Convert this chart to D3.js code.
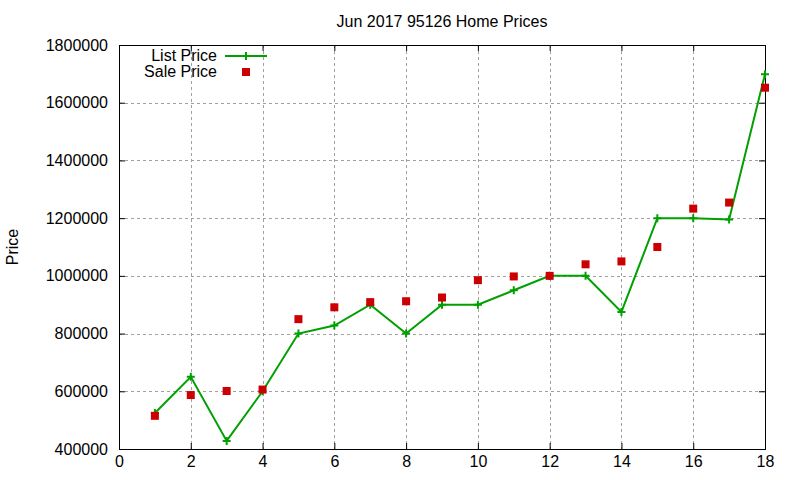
<!DOCTYPE html>
<html>
<head>
<meta charset="utf-8">
<script src="https://cdn.jsdelivr.net/npm/d3@7"></script>
<style>
  body { margin: 0; background: #fff; }
  text { font-family: "Liberation Sans", Arial, sans-serif; font-size: 16px; fill: #000; }
</style>
</head>
<body>
<div id="chart"></div>
<script>
const months = [1, 2, 3, 4, 5, 6, 7, 8, 9, 10, 11, 12, 13, 14, 15, 16, 17, 18];
const listPrice = [525000, 650000, 428000, 600000, 800000, 828000, 900000, 800000, 900000, 900000, 950000, 1000000, 1000000, 875000, 1200000, 1200000, 1195000, 1699000];
const salePrice = [515000, 587000, 601000, 606000, 850000, 891000, 909000, 912000, 925000, 985000, 998000, 1000000, 1040000, 1050000, 1100000, 1233000, 1254000, 1652000];
const xTicks = [0, 2, 4, 6, 8, 10, 12, 14, 16, 18];
const yTicks = [400000, 600000, 800000, 1000000, 1200000, 1400000, 1600000, 1800000];

let dimensions = {
  width: 800,
  height: 480,
  margin: { top: 45, right: 35, bottom: 31, left: 119 },
}
dimensions.boundedWidth = dimensions.width - dimensions.margin.left - dimensions.margin.right
dimensions.boundedHeight = dimensions.height - dimensions.margin.top - dimensions.margin.bottom

const wrapper = d3.select('#chart')
  .append('svg')
  .attr('width', dimensions.width)
  .attr('height', dimensions.height)

const chart = wrapper.append('g')
  .attr('transform', `translate(${dimensions.margin.left},${dimensions.margin.top})`)

//// Scales
const xScale = d3.scaleLinear().domain([0, 18]).range([0, dimensions.boundedWidth])
const yScale = d3.scaleLinear().domain([400000, 1800000]).range([dimensions.boundedHeight, 0])

//// Grid
chart.append('g').selectAll('line')
  .data(xTicks.slice(1, -1))
  .join('line')
  .attr('x1', d => Math.round(xScale(d)) + 0.5)
  .attr('x2', d => Math.round(xScale(d)) + 0.5)
  .attr('y1', 0)
  .attr('y2', dimensions.boundedHeight)
  .attr('stroke', '#a0a0a0')
  .style('stroke-dasharray', '3, 3')

chart.append('g').selectAll('line')
  .data(yTicks.slice(1, -1))
  .join('line')
  .attr('y1', d => Math.round(yScale(d)) + 0.5)
  .attr('y2', d => Math.round(yScale(d)) + 0.5)
  .attr('x1', 0)
  .attr('x2', dimensions.boundedWidth)
  .attr('stroke', '#a0a0a0')
  .style('stroke-dasharray', '3, 3')

//// Axes (gnuplot style: inward ticks, mirrored)
const xAxisBottom = chart.append('g')
  .attr('transform', `translate(0,${dimensions.boundedHeight})`)
  .call(d3.axisBottom(xScale).tickValues(xTicks).tickSizeInner(-6).tickSizeOuter(0).tickPadding(7))
const xAxisTop = chart.append('g')
  .call(d3.axisTop(xScale).tickValues(xTicks).tickSizeInner(-6).tickSizeOuter(0).tickFormat(''))
const yAxisLeft = chart.append('g')
  .call(d3.axisLeft(yScale).tickValues(yTicks).tickSizeInner(-6).tickSizeOuter(0).tickPadding(11).tickFormat(d3.format('d')))
const yAxisRight = chart.append('g')
  .attr('transform', `translate(${dimensions.boundedWidth},0)`)
  .call(d3.axisRight(yScale).tickValues(yTicks).tickSizeInner(-6).tickSizeOuter(0).tickFormat(''))

;[xAxisBottom, xAxisTop, yAxisLeft, yAxisRight].forEach(a => {
  a.select('.domain').remove()
  a.selectAll('text').style('font-family', '"Liberation Sans", Arial, sans-serif').style('font-size', '16px')
  a.selectAll('line').attr('stroke', '#000')
})

chart.append('rect')
  .attr('x', 0.5).attr('y', 0.5)
  .attr('width', dimensions.boundedWidth)
  .attr('height', dimensions.boundedHeight)
  .attr('fill', 'none')
  .attr('stroke', '#000')

//// List price line
const green = '#00a000'
const red = '#cc0000'
const lineGen = d3.line().x((d, i) => xScale(months[i])).y(d => yScale(d))

chart.append('path')
  .datum(listPrice)
  .attr('d', lineGen)
  .attr('fill', 'none')
  .attr('stroke', green)
  .attr('stroke-width', 2)

const plus = (g, s) => g.append('path')
  .attr('d', `M${-s},0H${s}M0,${-s}V${s}`)
  .attr('stroke', green)
  .attr('stroke-width', 2)

chart.append('g').selectAll('g')
  .data(listPrice)
  .join('g')
  .attr('transform', (d, i) => `translate(${xScale(months[i])},${yScale(d)})`)
  .each(function () { plus(d3.select(this), 4) })

//// Sale price points
chart.append('g').selectAll('rect')
  .data(salePrice)
  .join('rect')
  .attr('x', (d, i) => xScale(months[i]) - 4)
  .attr('y', d => yScale(d) - 4)
  .attr('width', 8)
  .attr('height', 8)
  .attr('fill', red)

//// Title and label
wrapper.append('text')
  .attr('x', 442).attr('y', 27)
  .attr('text-anchor', 'middle')
  .text('Jun 2017 95126 Home Prices')

wrapper.append('text')
  .attr('transform', 'translate(18,247) rotate(-90)')
  .attr('text-anchor', 'middle')
  .text('Price')

//// Legend
const legend = wrapper.append('g')
legend.append('text').attr('x', 217).attr('y', 61).attr('text-anchor', 'end').text('List Price')
legend.append('line').attr('x1', 225).attr('x2', 267).attr('y1', 56).attr('y2', 56)
  .attr('stroke', green).attr('stroke-width', 2)
plus(legend.append('g').attr('transform', 'translate(246,56)'), 4)

legend.append('text').attr('x', 217).attr('y', 77).attr('text-anchor', 'end').text('Sale Price')
legend.append('rect').attr('x', 242).attr('y', 68).attr('width', 8).attr('height', 8).attr('fill', red)
</script>
</body>
</html>
